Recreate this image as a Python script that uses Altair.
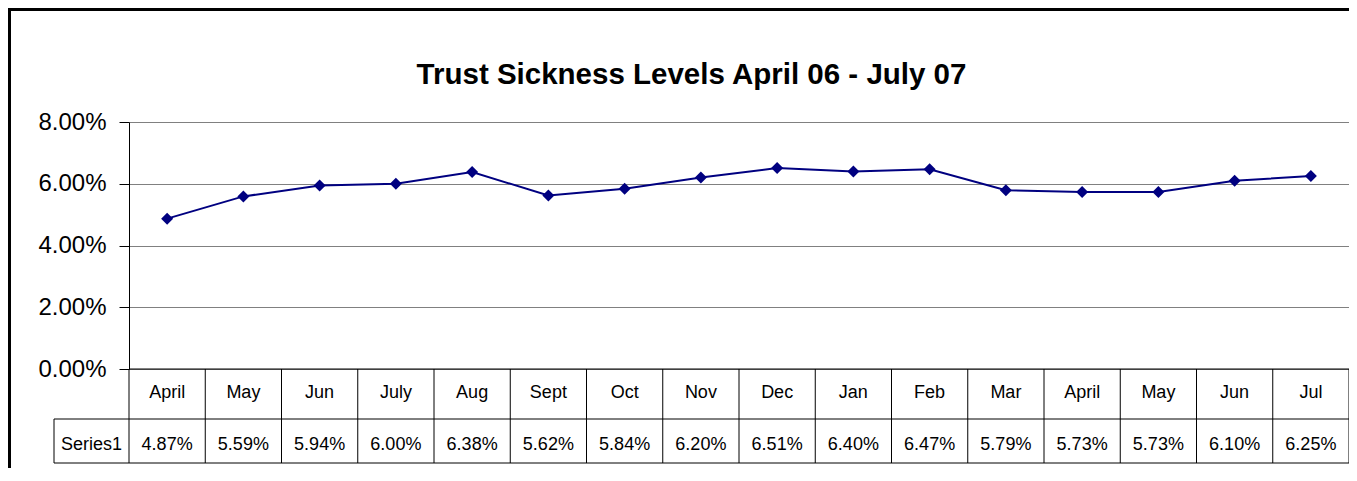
import altair as alt
import pandas as pd

# ---- data ----
months = ["April", "May", "Jun", "July", "Aug", "Sept", "Oct", "Nov",
          "Dec", "Jan", "Feb", "Mar", "April", "May", "Jun", "Jul"]
values = [4.87, 5.59, 5.94, 6.00, 6.38, 5.62, 5.84, 6.20,
          6.51, 6.40, 6.47, 5.79, 5.73, 5.73, 6.10, 6.25]
series_name = "Series1"
title_text = "Trust Sickness Levels April 06 - July 07"
y_ticks = [0, 0.02, 0.04, 0.06, 0.08]

# ---- layout ----
W, H = 1220, 247
PAD = {"left": 121, "top": 114, "right": 0, "bottom": 99}
FONT = "Liberation Sans"
NAVY = "#000080"

df = pd.DataFrame({
    "idx": list(range(len(months))),
    "month": months,
    "value": [v / 100 for v in values],
    "label": [f"{v:.2f}%" for v in values],
})
bounds = pd.DataFrame({"b": [i - 0.5 for i in range(len(months) + 1)]})
one = pd.DataFrame({"a": [0]})

xscale = alt.Scale(domain=[-0.5, len(months) - 0.5], nice=False, zero=False)
x = alt.X("idx:Q", scale=xscale, axis=None)
y = alt.Y(
    "value:Q",
    scale=alt.Scale(domain=[0, 0.08], nice=False),
    axis=alt.Axis(
        values=y_ticks, format=".2%", title=None, grid=True,
        gridColor="#808080", gridWidth=1, domainColor="#000000",
        domainWidth=1, tickColor="#000000", tickSize=10, tickWidth=1,
        labelFont=FONT, labelFontSize=24, labelColor="#000000",
        labelPadding=13,
    ),
)

line = alt.Chart(df).mark_line(color=NAVY, strokeWidth=2).encode(x=x, y=y)
points = alt.Chart(df).mark_point(
    shape="diamond", filled=True, size=144, color=NAVY, opacity=1
).encode(x=x, y=y)

header = alt.Chart(df).mark_text(
    font=FONT, fontSize=18, color="#000000", baseline="alphabetic", align="center"
).encode(x=x, y=alt.value(276), text="month:N")
cells = alt.Chart(df).mark_text(
    font=FONT, fontSize=18, color="#000000", baseline="alphabetic", align="center"
).encode(x=x, y=alt.value(328), text="label:N")

vlines = alt.Chart(bounds).mark_rule(color="#000000", strokeWidth=1).encode(
    x=alt.X("b:Q", scale=xscale, axis=None), y=alt.value(H), y2=alt.value(341)
)

def hrule(yv, x0, x1, width=1):
    return alt.Chart(one).mark_rule(color="#000000", strokeWidth=width).encode(
        x=alt.value(x0), x2=alt.value(x1), y=alt.value(yv)
    )

def vrule(xv, y0, y1, width=1):
    return alt.Chart(one).mark_rule(color="#000000", strokeWidth=width).encode(
        x=alt.value(xv), y=alt.value(y0), y2=alt.value(y1)
    )

axis_line = hrule(H, 0, W)
row_sep = hrule(297, -75, W)
table_bottom = hrule(341, -75, W)
series_left = vrule(-75, 297, 341)

series_label = alt.Chart(one).mark_text(
    text=series_name, font=FONT, fontSize=18, color="#000000",
    baseline="alphabetic", align="center"
).encode(x=alt.value(-37.5), y=alt.value(328))

title = alt.Chart(one).mark_text(
    text=title_text, font=FONT, fontWeight="bold", fontSize=29.5,
    color="#000000", baseline="alphabetic", align="center"
).encode(x=alt.value(562.5), y=alt.value(-38))

border_left = vrule(-119.5, -112.5, H + PAD["bottom"], width=3)
border_top = hrule(-112.5, -121, W, width=3)

chart = alt.layer(
    line, points, vlines, axis_line, row_sep, table_bottom, series_left,
    header, cells, series_label, title, border_left, border_top,
).properties(
    width=W, height=H,
    autosize=alt.AutoSizeParams(type="none"),
    padding=PAD,
    background="#ffffff",
).configure_view(strokeWidth=0)

chart.save("out.html", embed_options={"renderer": "svg", "actions": False})
